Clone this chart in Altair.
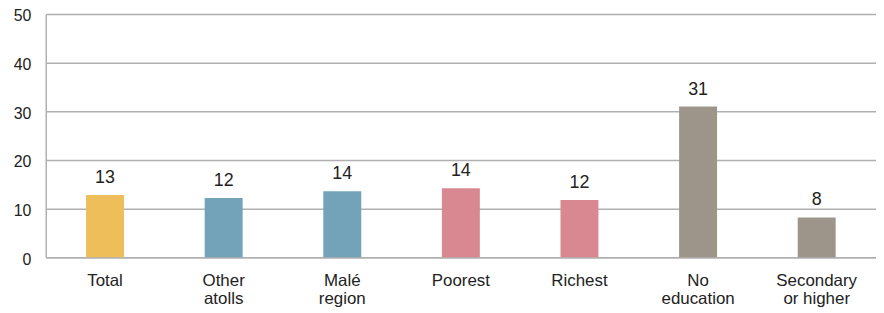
import altair as alt
import pandas as pd

categories = ["Total", "Other\natolls", "Malé\nregion", "Poorest", "Richest", "No\neducation", "Secondary\nor higher"]
groups = ["Total", "Region", "Region", "Wealth", "Wealth", "Education", "Education"]
values = [12.8, 12.2, 13.6, 14.2, 11.8, 31.0, 8.2]

group_domain = ["Total", "Region", "Wealth", "Education"]
group_colors = ["#EDBE5A", "#72A3B8", "#D98892", "#9D958A"]

df = pd.DataFrame({"category": categories, "group": groups, "value": values})

FONT = "Liberation Sans"

x = alt.X("category:N", sort=categories, title=None,
          scale=alt.Scale(paddingInner=0.68, paddingOuter=0.34),
          axis=alt.Axis(labelAngle=0, ticks=False, labelPadding=15,
                        labelExpr="split(datum.label, '\\n')",
                        labelFontSize=17, labelLineHeight=19, labelColor="#222222",
                        labelFont=FONT, domain=True, domainColor="#b0b0b0", domainWidth=1.5))
y = alt.Y("value:Q", title=None,
          scale=alt.Scale(domain=[0, 50]),
          axis=alt.Axis(values=[0, 10, 20, 30, 40, 50], ticks=False, labelPadding=15,
                        labelOffset=2,
                        labelFontSize=16, labelColor="#222222", labelFont=FONT,
                        grid=True, gridColor="#b0b0b0", gridWidth=1.5,
                        domain=True, domainColor="#b0b0b0", domainWidth=1.5))

bars = alt.Chart(df).mark_bar().encode(
    x=x, y=y,
    color=alt.Color("group:N", scale=alt.Scale(domain=group_domain, range=group_colors), legend=None),
)
text = alt.Chart(df).mark_text(baseline="alphabetic", dy=-12, fontSize=18, font=FONT, color="#222222").encode(
    x=alt.X("category:N", sort=categories),
    y="value:Q",
    text=alt.Text("value:Q", format=".0f"),
)

chart = (bars + text).properties(
    width=836, height=245,
    autosize=alt.AutoSizeParams(type="none"),
    padding={"left": 38, "top": 5, "right": 0, "bottom": 50},
).configure_view(stroke=None)

chart.save("out.html", embed_options={"renderer": "svg", "actions": False})
